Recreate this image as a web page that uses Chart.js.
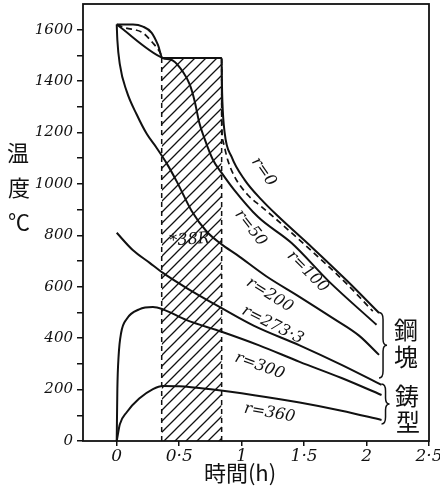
<!DOCTYPE html>
<html>
<head>
<meta charset="utf-8">
<script src="https://cdn.jsdelivr.net/npm/chart.js@4.4.1/dist/chart.umd.min.js"></script>
<style>
  html, body { margin: 0; padding: 0; background: #fff; }
</style>
</head>
<body>
<canvas id="ingotChart" width="440" height="486"></canvas>
<script>
// --- axis ticks ---
const xTickValues = [0, 0.5, 1, 1.5, 2, 2.5];
const xTickLabels = ["0", "0·5", "1", "1·5", "2", "2·5"];
const yTickValues = [0, 200, 400, 600, 800, 1000, 1200, 1400, 1600];
const yTickLabels = ["0", "200", "400", "600", "800", "1000", "1200", "1400", "1600"];
const yMinorTicks = [100, 300, 500, 700, 900, 1100, 1300, 1500];

// --- curves: [time (h), temperature (°C)] ---
const r0 = [[0, 1620], [0.13, 1620], [0.21, 1612], [0.28, 1588], [0.33, 1541], [0.368, 1490],
  [0.84, 1490], [0.842, 1400], [0.846, 1320], [0.864, 1200], [0.92, 1105], [1.024, 1016],
  [1.16, 938], [1.29, 875], [1.57, 750], [1.84, 625], [2.1, 498]];
const r50 = [[0, 1620], [0.064, 1608], [0.208, 1588], [0.288, 1549], [0.344, 1514], [0.368, 1490],
  [0.84, 1490], [0.841, 1250], [0.848, 1172], [0.888, 1094], [0.944, 1028], [1.048, 958],
  [1.16, 911], [1.264, 868], [1.57, 735], [1.84, 612], [2.05, 505]];
const r100 = [[0, 1620], [0.368, 1490], [0.45, 1480], [0.53, 1436], [0.585, 1386], [0.625, 1320],
  [0.66, 1240], [0.7, 1180], [0.77, 1094], [0.84, 1043], [0.94, 977], [1.13, 872],
  [1.4, 770], [1.7, 620], [2.08, 452]];
const r200 = [[0, 1620], [0.005, 1560], [0.025, 1465], [0.08, 1360], [0.16, 1270], [0.24, 1195],
  [0.32, 1140], [0.4, 1080], [0.48, 1010], [0.6, 895], [0.72, 815], [0.84, 765], [0.96, 725],
  [1.2, 640], [1.46, 562], [1.73, 478], [1.94, 410], [2.1, 335]];
const r273 = [[0, 810], [0.128, 743], [0.264, 693], [0.37, 654], [0.56, 595], [0.84, 517],
  [1.1, 448], [1.464, 372], [1.8, 296], [2.12, 218]];
const r300 = [[0, 0], [0.005, 200], [0.015, 330], [0.035, 420], [0.08, 475], [0.18, 512],
  [0.29, 521], [0.37, 512], [0.56, 470], [0.84, 425], [1.14, 372], [1.464, 308], [1.8, 245],
  [2.12, 179]];
const r360 = [[0, 0], [0.025, 65], [0.08, 112], [0.18, 165], [0.29, 202], [0.37, 214], [0.5, 213],
  [0.77, 200], [1.1, 178], [1.464, 150], [1.8, 118], [2.12, 82]];

// hatched band (solidification period)
const hatchFrom = 0.36;
const hatchTo = 0.84;
const hatchTop = 1490;

// labels written along the curves: text, time, temperature, angle
const curveLabels = [
  ["r=0", 1.176, 1047, 55],
  ["r=50", 1.072, 829, 52],
  ["r=100", 1.528, 658, 45],
  ["r=200", 1.224, 568, 32],
  ["r=273·3", 1.248, 451, 27],
  ["r=300", 1.144, 292, 20],
  ["r=360", 1.224, 109, 10],
  ["*38R", 0.584, 782, -4]
];

const ink = "#111";
const toXY = arr => arr.map(p => ({ x: p[0], y: p[1] }));

// --- diagonal hatch pattern ---
function makeHatch() {
  const c = document.createElement("canvas");
  c.width = 11; c.height = 11;
  const g = c.getContext("2d");
  g.strokeStyle = ink;
  g.lineWidth = 1.3;
  g.beginPath();
  g.moveTo(0, 11); g.lineTo(11, 0);
  g.moveTo(-2, 2); g.lineTo(2, -2);
  g.moveTo(9, 13); g.lineTo(13, 9);
  g.stroke();
  return g.createPattern(c, "repeat");
}

function curve(data, dash) {
  return {
    data: toXY(data),
    borderColor: ink,
    borderWidth: dash ? 1.7 : 2,
    borderDash: dash || [],
    pointRadius: 0,
    fill: false,
    cubicInterpolationMode: "monotone"
  };
}

function brace(ctx, x, y0, y1) {
  const m = (y0 + y1) / 2, w = 4;
  ctx.beginPath();
  ctx.moveTo(x, y0);
  ctx.quadraticCurveTo(x + w, y0, x + w, y0 + 7);
  ctx.lineTo(x + w, m - 6);
  ctx.quadraticCurveTo(x + w, m, x + 2 * w, m);
  ctx.quadraticCurveTo(x + w, m, x + w, m + 6);
  ctx.lineTo(x + w, y1 - 7);
  ctx.quadraticCurveTo(x + w, y1, x, y1);
  ctx.stroke();
}

// --- frame, titles and hand lettering ---
const sketchPlugin = {
  id: "sketch",
  beforeDraw(chart) {
    const ctx = chart.ctx;
    ctx.save();
    ctx.fillStyle = "#fff";
    ctx.fillRect(0, 0, chart.width, chart.height);
    ctx.restore();
  },
  afterDraw(chart) {
    const ctx = chart.ctx;
    const a = chart.chartArea;
    const xs = chart.scales.x, ys = chart.scales.y;
    ctx.save();
    ctx.strokeStyle = ink;
    ctx.fillStyle = ink;
    ctx.lineWidth = 1.8;
    ctx.strokeRect(a.left, a.top, a.right - a.left, a.bottom - a.top);

    // curve labels
    ctx.font = "italic 16px 'DejaVu Serif'";
    ctx.textAlign = "center";
    ctx.textBaseline = "middle";
    curveLabels.forEach(([txt, t, v, ang]) => {
      ctx.save();
      ctx.translate(xs.getPixelForValue(t), ys.getPixelForValue(v));
      ctx.rotate(ang * Math.PI / 180);
      ctx.fillText(txt, 0, 0);
      ctx.restore();
    });

    // axis titles
    ctx.font = "22px 'Noto Sans CJK JP'";
    ctx.fillText("温", 18, 153);
    ctx.fillText("度", 19, 188);
    ctx.fillText("℃", 19, 222);
    ctx.fillText("時間(h)", 240, 473);

    // ingot / mould groups
    ctx.lineWidth = 1.5;
    brace(ctx, xs.getPixelForValue(2.1), ys.getPixelForValue(500), ys.getPixelForValue(245));
    brace(ctx, xs.getPixelForValue(2.12), ys.getPixelForValue(222), ys.getPixelForValue(66));
    ctx.font = "24px 'Noto Sans CJK JP'";
    ctx.fillText("鋼", 406, 330);
    ctx.fillText("塊", 406, 357);
    ctx.fillText("鋳", 407, 396);
    ctx.fillText("型", 408, 422);
    ctx.restore();
  }
};

const ctx = document.getElementById("ingotChart").getContext("2d");

new Chart(ctx, {
  type: "line",
  data: {
    datasets: [
      curve(r0),
      curve(r50, [6, 4]),
      curve(r100),
      curve(r200),
      curve(r273),
      curve(r300),
      curve(r360),
      {
        data: [{ x: hatchFrom, y: hatchTop }, { x: hatchFrom, y: 0 }],
        borderColor: ink, borderWidth: 1.5, borderDash: [5, 4], pointRadius: 0, fill: false
      },
      {
        data: [{ x: hatchTo, y: hatchTop }, { x: hatchTo, y: 0 }],
        borderColor: ink, borderWidth: 1.5, borderDash: [5, 4], pointRadius: 0, fill: false
      },
      {
        data: [{ x: hatchFrom, y: hatchTop }, { x: hatchTo, y: hatchTop }],
        borderWidth: 0, pointRadius: 0,
        backgroundColor: makeHatch(),
        fill: "origin",
        order: 10
      }
    ]
  },
  options: {
    responsive: false,
    devicePixelRatio: 1,
    animation: false,
    layout: { padding: { top: 4, right: 11, left: 0, bottom: 0 } },
    plugins: { legend: { display: false }, tooltip: { enabled: false } },
    scales: {
      x: {
        type: "linear",
        min: -0.27,
        max: 2.5,
        afterBuildTicks: s => { s.ticks = xTickValues.map(v => ({ value: v })); },
        afterFit: s => { s.height = 45; s.paddingLeft = 0; s.paddingRight = 0; },
        ticks: {
          color: ink,
          padding: 0,
          maxRotation: 0,
          font: { family: "DejaVu Serif", style: "italic", size: 17 },
          callback: v => xTickLabels[xTickValues.indexOf(v)]
        },
        grid: { drawOnChartArea: false, tickLength: 5, color: ink, lineWidth: 1.5 },
        border: { display: false }
      },
      y: {
        min: 0,
        max: 1700,
        afterBuildTicks: s => {
          s.ticks = yTickValues.concat(yMinorTicks).sort((p, q) => p - q).map(v => ({ value: v }));
        },
        afterFit: s => { s.width = 83; s.paddingTop = 0; s.paddingBottom = 0; },
        ticks: {
          color: ink,
          padding: 4,
          font: { family: "DejaVu Serif", style: "italic", size: 15 },
          callback: v => {
            const i = yTickValues.indexOf(v);
            return i >= 0 ? yTickLabels[i] : "";
          }
        },
        grid: { drawOnChartArea: false, tickLength: 6, color: ink, lineWidth: 1.5 },
        border: { display: false }
      }
    }
  },
  plugins: [sketchPlugin]
});
</script>
</body>
</html>
